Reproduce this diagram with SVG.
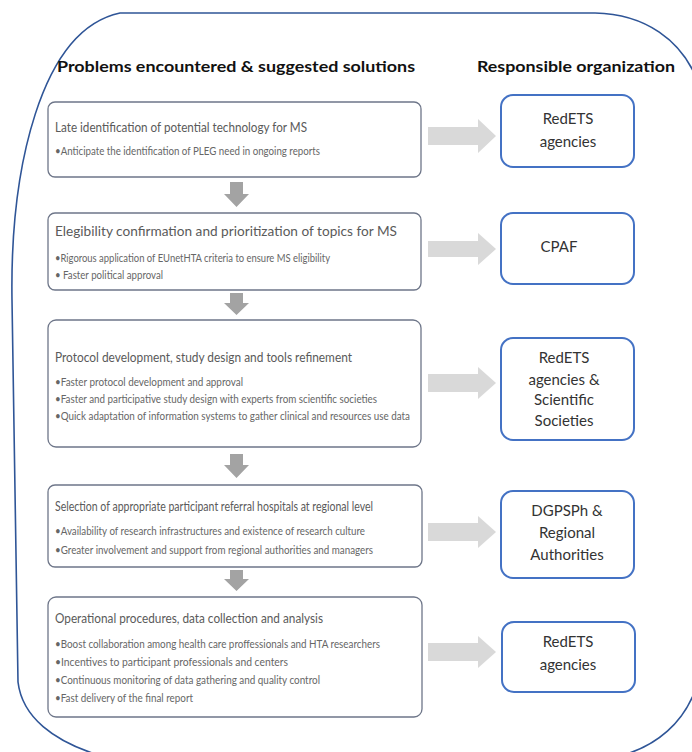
<svg xmlns="http://www.w3.org/2000/svg" width="692" height="752" viewBox="0 0 692 752">
<defs>
<style>
.frame{fill:none;stroke:#2F5597;stroke-width:1.6}
.lbox{fill:#fff;stroke:#6E7689;stroke-width:1.3}
.rbox{fill:#fff;stroke:#4472C4;stroke-width:2}
.hdr{font-family:"Lato","Liberation Sans",sans-serif;font-weight:bold;font-size:16px;fill:#111}
.ttl{font-family:"Lato","Liberation Sans",sans-serif;font-size:14px;fill:#5a5a5a}
.bul{font-family:"Lato","Liberation Sans",sans-serif;font-size:11px;fill:#666}
.org{font-family:"Lato","Liberation Sans",sans-serif;font-size:15px;fill:#333;text-anchor:middle}
.rarr{fill:#D9D9D9}
.darr{fill:#A3A3A3}
</style>
</defs>
<rect width="692" height="752" fill="#fff"/>
<path class="frame" d="M 120,13 L 595,13 C 645,14 682,40 698,82 L 698,682 C 686,722 656,748 615,757 L 105,757 C 52,742 22,716 18,682 L 12,300 C 10,170 40,30 120,13 Z"/>
<text class="hdr" x="57" y="72" textLength="358" lengthAdjust="spacingAndGlyphs">Problems encountered &amp; suggested solutions</text>
<text class="hdr" x="477" y="72" textLength="198" lengthAdjust="spacingAndGlyphs">Responsible organization</text>

<g id="connectors">
<polygon class="rarr" points="428,127 478,127 478,119 496,136 478,153 478,145 428,145"/>
<polygon class="rarr" points="428,241 478,241 478,233 496,249 478,265 478,257 428,257"/>
<polygon class="rarr" points="428,374 478,374 478,367 496,383 478,399 478,392 428,392"/>
<polygon class="rarr" points="428,523 478,523 478,516 496,532 478,548 478,541 428,541"/>
<polygon class="rarr" points="428,643 478,643 478,636 496,652 478,668 478,661 428,661"/>
<polygon class="darr" points="230,182 243,182 243,194 249,194 236.5,207 224,194 230,194"/>
<polygon class="darr" points="230,293 243,293 243,303 249,303 236.5,315 224,303 230,303"/>
<polygon class="darr" points="230,454 243,454 243,465 249,465 236.5,478 224,465 230,465"/>
<polygon class="darr" points="230,570 243,570 243,579 249,579 236.5,591 224,579 230,579"/>
</g>

<g id="step1">
<rect class="lbox" x="48" y="102" width="373" height="75" rx="7"/>
<text class="ttl" x="55" y="132" textLength="252" lengthAdjust="spacingAndGlyphs">Late identification of potential technology for MS</text>
<text class="bul" x="55" y="155" textLength="265" lengthAdjust="spacingAndGlyphs">•Anticipate the identification of PLEG need in ongoing reports</text>
</g>
<g id="step2">
<rect class="lbox" x="48" y="213" width="373" height="77" rx="7"/>
<text class="ttl" x="55" y="236" textLength="342" lengthAdjust="spacingAndGlyphs">Elegibility confirmation and prioritization of topics for MS</text>
<text class="bul" x="55" y="262" textLength="275" lengthAdjust="spacingAndGlyphs">•Rigorous application of EUnetHTA criteria to ensure MS eligibility</text>
<text class="bul" x="55" y="279" textLength="108" lengthAdjust="spacingAndGlyphs">• Faster political approval</text>
</g>
<g id="step3">
<rect class="lbox" x="48" y="320" width="373" height="127" rx="8"/>
<text class="ttl" x="55" y="362" textLength="297" lengthAdjust="spacingAndGlyphs">Protocol development, study design and tools refinement</text>
<text class="bul" x="55" y="386" textLength="188" lengthAdjust="spacingAndGlyphs">•Faster protocol development and approval</text>
<text class="bul" x="55" y="403" textLength="322" lengthAdjust="spacingAndGlyphs">•Faster and participative study design with experts from scientific societies</text>
<text class="bul" x="55" y="420" textLength="355" lengthAdjust="spacingAndGlyphs">•Quick adaptation of information systems to gather clinical and resources use data</text>
</g>
<g id="step4">
<rect class="lbox" x="48" y="485" width="374" height="82" rx="7"/>
<text class="ttl" x="55" y="511" textLength="318" lengthAdjust="spacingAndGlyphs">Selection of appropriate participant referral hospitals at regional level</text>
<text class="bul" x="55" y="535" textLength="310" lengthAdjust="spacingAndGlyphs">•Availability of research infrastructures and existence of research culture</text>
<text class="bul" x="55" y="554" textLength="318" lengthAdjust="spacingAndGlyphs">•Greater involvement and support from regional authorities and managers</text>
</g>
<g id="step5">
<rect class="lbox" x="48" y="597" width="374" height="120" rx="8"/>
<text class="ttl" x="55" y="623" textLength="268" lengthAdjust="spacingAndGlyphs">Operational procedures, data collection and analysis</text>
<text class="bul" x="55" y="648" textLength="325" lengthAdjust="spacingAndGlyphs">•Boost collaboration among health care proffessionals and HTA researchers</text>
<text class="bul" x="55" y="666" textLength="233" lengthAdjust="spacingAndGlyphs">•Incentives to participant professionals and centers</text>
<text class="bul" x="55" y="684" textLength="265" lengthAdjust="spacingAndGlyphs">•Continuous monitoring of data gathering and quality control</text>
<text class="bul" x="55" y="702" textLength="138" lengthAdjust="spacingAndGlyphs">•Fast delivery of the final report</text>
</g>

<g id="org1">
<rect class="rbox" x="501" y="95" width="133" height="72" rx="12"/>
<text class="org" x="568" y="124">RedETS</text>
<text class="org" x="568" y="147">agencies</text>
</g>
<g id="org2">
<rect class="rbox" x="501" y="213" width="133" height="71" rx="12"/>
<text class="org" x="559" y="252">CPAF</text>
</g>
<g id="org3">
<rect class="rbox" x="501" y="338" width="133" height="102" rx="12"/>
<text class="org" x="564" y="363">RedETS</text>
<text class="org" x="564" y="385">agencies &amp;</text>
<text class="org" x="564" y="405">Scientific</text>
<text class="org" x="564" y="426">Societies</text>
</g>
<g id="org4">
<rect class="rbox" x="501" y="491" width="133" height="87" rx="12"/>
<text class="org" x="567" y="516">DGPSPh &amp;</text>
<text class="org" x="567" y="538">Regional</text>
<text class="org" x="567" y="560">Authorities</text>
</g>
<g id="org5">
<rect class="rbox" x="502" y="622" width="133" height="70" rx="12"/>
<text class="org" x="568" y="647">RedETS</text>
<text class="org" x="568" y="670">agencies</text>
</g>
</svg>
